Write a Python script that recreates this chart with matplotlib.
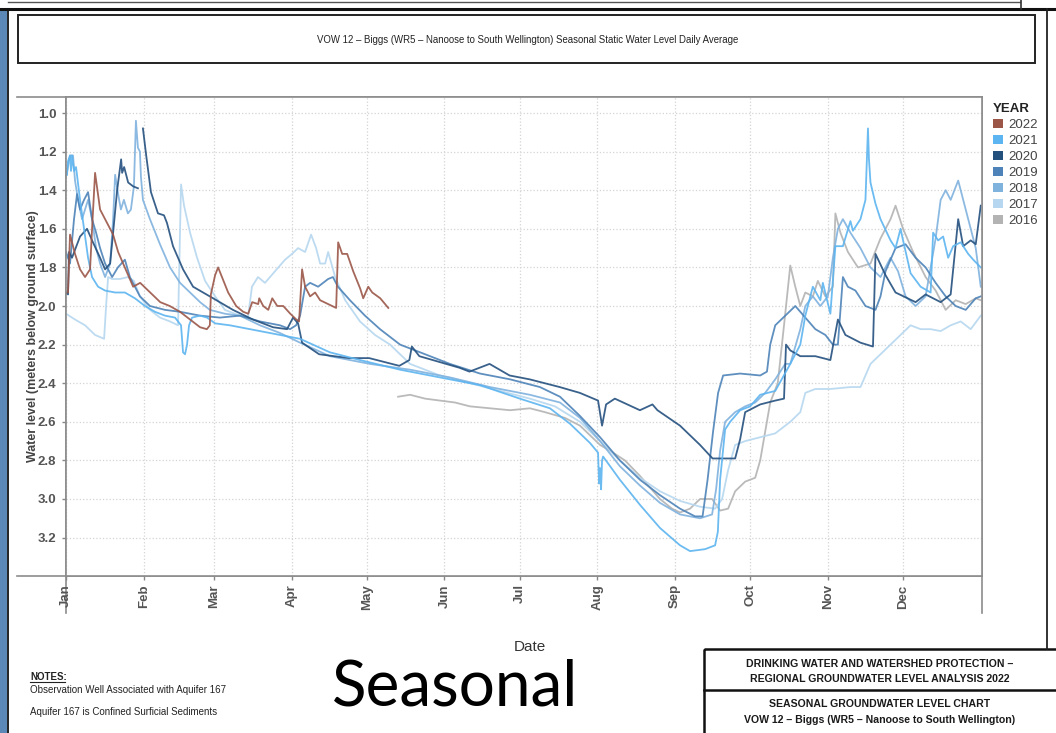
# Seasonal static water level chart - VOW 12 Biggs
import numpy as np
import matplotlib
matplotlib.use("Agg")
import matplotlib.pyplot as plt
from matplotlib.patches import Rectangle, Patch

plt.rcParams['font.family'] = ['Liberation Sans', 'DejaVu Sans']

# ---- data (day of year, water level in m below ground surface) ----
nan = np.nan

y2022 = [(0, 1.93), (0.8, 1.93), (1.6, 1.63), (3.6, 1.73), (5.6, 1.81), (7.6, 1.85), (9.6, 1.81),
         (10.4, 1.60), (11.6, 1.31), (13.6, 1.50), (18.8, 1.63), (20.8, 1.72), (22.8, 1.78),
         (26.8, 1.90), (29.6, 1.88), (33.6, 1.93), (37.6, 1.98), (41.4, 2.00), (45.5, 2.03),
         (49.5, 2.07), (53.5, 2.11), (56.2, 2.12), (57.4, 2.10), (57.8, 1.94), (59.5, 1.84),
         (60.7, 1.80), (64.7, 1.93), (67.9, 2.00), (70.7, 2.03), (72.7, 2.04), (74.3, 1.98),
         (76.7, 1.99), (77.1, 1.96), (78.7, 2.00), (80.7, 2.02), (82.3, 1.96), (84.3, 2.00),
         (86.7, 2.00), (89.5, 2.04), (91.9, 2.07), (93.0, 2.08), (94.2, 1.81), (95.4, 1.90),
         (97.4, 1.95), (99.4, 1.93), (101.4, 1.97), (104.6, 1.99), (107.8, 2.01), (108.6, 1.67),
         (110.2, 1.73), (112.2, 1.73), (114.6, 1.82), (117.4, 1.91), (118.6, 1.96), (120.6, 1.90),
         (122.2, 1.93), (125.4, 1.96), (128.6, 2.01)]

y2021 = [(0.4, 1.32), (0.8, 1.25), (1.6, 1.22), (2.0, 1.30), (2.4, 1.22), (3.2, 1.30), (4.0, 1.28),
         (5.6, 1.45), (7.2, 1.60), (8.8, 1.75), (10.4, 1.85), (12.8, 1.90), (15.6, 1.92),
         (19.6, 1.93), (23.5, 1.93), (27.5, 1.96), (31.5, 2.00), (35.5, 2.03), (39.5, 2.05),
         (43.5, 2.06), (45.9, 2.10), (46.7, 2.24), (47.5, 2.25), (48.3, 2.20), (49.1, 2.10),
         (50.3, 2.06), (53.5, 2.05), (56.3, 2.06), (59.5, 2.09), (65.4, 2.10), (73.4, 2.12),
         (81.4, 2.14), (89.4, 2.16), (93.4, 2.17), (105.3, 2.24), (117.3, 2.28), (133.3, 2.33),
         (149.2, 2.37), (165.2, 2.41), (181.1, 2.48), (193.1, 2.53), (201.1, 2.61), (209.1, 2.71),
         (212.3, 2.76), (212.7, 2.92), (213.1, 2.84), (213.5, 2.95), (213.9, 2.80), (214.3, 2.78),
         (221, 2.90), (229, 3.03), (237, 3.15), (245, 3.24), (249, 3.27), (255, 3.26), (259, 3.24),
         (260.1, 3.17), (261, 2.90), (263, 2.64), (265, 2.60), (269, 2.54), (273, 2.52),
         (277, 2.46), (283, 2.44), (289, 2.30), (293, 2.20), (295, 2.05), (298, 1.90), (301, 1.97),
         (302, 1.88), (305, 2.04), (307, 1.69), (310, 1.69), (313, 1.56), (314, 1.61), (317, 1.55),
         (319, 1.45), (320, 1.08), (320.4, 1.24), (321, 1.36), (323, 1.47), (325, 1.55),
         (329, 1.66), (331, 1.70), (333, 1.60), (334, 1.66), (337, 1.83), (341, 1.90), (345, 1.93),
         (346, 1.62), (348, 1.66), (350, 1.64), (352, 1.75), (354, 1.69), (357, 1.67), (360, 1.73),
         (362, 1.76), (365, 1.80)]

y2020 = [(0, 1.93), (0.8, 1.94), (1.2, 1.72), (2.4, 1.75), (5.6, 1.64), (8.4, 1.60), (10.4, 1.66),
         (13.6, 1.75), (15.6, 1.81), (17.6, 1.78), (18.8, 1.62), (20.4, 1.40), (22, 1.24),
         (22.4, 1.31), (23.2, 1.28), (24.8, 1.36), (26.8, 1.38), (28.7, 1.39), (29.5, nan),
         (30.7, 1.08), (32, 1.22), (33.9, 1.41), (36.7, 1.52), (39.1, 1.53), (40.3, 1.57),
         (42.7, 1.69), (46.7, 1.81), (50.7, 1.90), (54.7, 1.93), (58.7, 1.96), (66.6, 2.02),
         (74.6, 2.07), (82.6, 2.11), (88.2, 2.12), (90.6, 2.06), (92.6, 2.09), (94.2, 2.19),
         (101, 2.25), (113, 2.27), (121, 2.27), (133, 2.31), (137, 2.28), (138, 2.21), (141, 2.26),
         (149, 2.29), (157, 2.32), (161, 2.34), (165, 2.32), (169, 2.30), (177, 2.36), (185, 2.38),
         (197, 2.42), (205, 2.45), (212.3, 2.49), (213.9, 2.62), (215.5, 2.51), (219, 2.48),
         (229, 2.54), (234, 2.51), (236, 2.54), (245, 2.62), (253, 2.72), (258, 2.79), (267, 2.79),
         (269, 2.69), (271, 2.55), (277, 2.51), (283, 2.49), (286.5, 2.48), (287.3, 2.20),
         (289, 2.23), (293, 2.26), (299, 2.26), (305, 2.28), (308, 2.07), (311, 2.15), (317, 2.19),
         (322, 2.21), (323, 1.73), (327, 1.84), (331, 1.93), (339, 1.98), (343, 1.94), (349, 1.98),
         (353, 1.94), (356, 1.55), (358, 1.69), (361, 1.66), (363, 1.68), (365, 1.48)]

y2019 = [(0, 1.72), (1.6, 1.78), (3.2, 1.55), (4.4, 1.42), (5.6, 1.50), (7.2, 1.45), (8.8, 1.41),
         (10.4, 1.55), (12, 1.62), (13.6, 1.70), (15.6, 1.78), (18.4, 1.85), (20.7, 1.80),
         (23.5, 1.76), (25.5, 1.85), (29.5, 1.95), (33.5, 2.00), (39.5, 2.02), (45.5, 2.03),
         (53.5, 2.05), (61.4, 2.06), (69.4, 2.05), (77.4, 2.08), (85.4, 2.10), (89.4, 2.12),
         (91.8, 2.10), (93.4, 2.05), (95.4, 1.90), (97.4, 1.88), (100.6, 1.90), (104.6, 1.86),
         (106.5, 1.85), (108.5, 1.90), (113.3, 1.97), (119.3, 2.05), (125.3, 2.12), (133.3, 2.20),
         (141.3, 2.24), (153.2, 2.30), (165.2, 2.35), (177.2, 2.38), (189.1, 2.42), (197.1, 2.47),
         (205.1, 2.57), (213.1, 2.68), (221, 2.80), (229, 2.90), (237, 2.98), (245, 3.05),
         (251, 3.09), (254, 3.09), (256, 2.90), (258.2, 2.65), (260.2, 2.45), (262.2, 2.36),
         (269, 2.35), (277, 2.36), (279.7, 2.34), (281, 2.20), (283, 2.10), (287, 2.05),
         (291, 2.00), (295, 2.06), (299, 2.12), (303, 2.15), (306, 2.20), (308, 2.20), (310, 1.85),
         (312, 1.90), (315, 1.92), (319, 2.00), (323, 2.02), (325, 1.95), (327, 1.82), (331, 1.70),
         (335, 1.68), (339, 1.75), (343, 1.80), (347, 1.88), (351, 1.95), (355, 2.00), (359, 2.02),
         (363, 1.96), (365, 1.95)]

y2018 = [(0, 1.33), (0.8, 1.28), (1.6, 1.22), (2.8, 1.22), (3.6, 1.35), (4.8, 1.45), (6.4, 1.55),
         (7.6, 1.50), (8.8, 1.45), (10.4, 1.55), (12, 1.70), (13.6, 1.78), (15.6, 1.85),
         (17.6, 1.78), (18.8, 1.55), (19.6, 1.32), (20.8, 1.42), (21.9, 1.50), (23.1, 1.45),
         (24.7, 1.52), (25.9, 1.50), (27.1, 1.38), (27.9, 1.04), (28.7, 1.18), (29.5, 1.20),
         (29.9, 1.33), (30.7, 1.45), (33.5, 1.55), (37.5, 1.68), (41.5, 1.80), (45.5, 1.88),
         (49.5, 1.93), (53.5, 1.98), (57.4, 2.02), (63.4, 2.04), (69.4, 2.05), (77.4, 2.10),
         (85.4, 2.14), (93.4, 2.19), (105.3, 2.26), (121.3, 2.30), (137.3, 2.33), (153.2, 2.37),
         (169.2, 2.42), (185.1, 2.46), (197.1, 2.50), (205.1, 2.58), (213.1, 2.70), (221, 2.83),
         (229, 2.93), (237, 3.02), (245, 3.08), (253, 3.10), (257.8, 3.08), (259.4, 2.95),
         (261, 2.75), (263, 2.60), (267, 2.55), (271, 2.52), (275, 2.50), (279, 2.45), (283, 2.38),
         (287, 2.30), (289, 2.30), (293, 2.12), (295, 2.00), (298, 1.95), (301, 2.00), (304, 1.95),
         (306, 1.75), (308, 1.60), (310, 1.55), (313, 1.62), (317, 1.70), (321, 1.80), (325, 1.85),
         (329, 1.75), (332, 1.82), (335, 1.95), (339, 2.00), (343, 1.95), (347, 1.65), (349, 1.45),
         (351, 1.40), (353, 1.45), (356, 1.35), (359, 1.50), (363, 1.70), (365, 1.90)]

y2017 = [(0, 2.04), (3.6, 2.07), (7.6, 2.10), (11.6, 2.15), (15.2, 2.17), (16, 2.00), (16.8, 1.85),
         (18.4, 1.86), (21.5, 1.86), (24.7, 1.85), (27.1, 1.87), (29.5, 1.95), (33.5, 2.02),
         (37.5, 2.06), (41.5, 2.08), (44.7, 2.10), (45.9, 1.37), (47.1, 1.48), (49.5, 1.62),
         (52.3, 1.75), (55.5, 1.87), (59.5, 1.95), (63.4, 2.02), (69.4, 2.05), (72.6, 2.06),
         (74.2, 1.90), (76.6, 1.85), (79.4, 1.88), (83.4, 1.82), (87.4, 1.76), (90.2, 1.73),
         (92.6, 1.70), (95.4, 1.72), (97.8, 1.63), (99.8, 1.70), (101.4, 1.78), (103.4, 1.78),
         (104.6, 1.72), (107.4, 1.85), (111.4, 1.97), (117.3, 2.08), (123.3, 2.15), (129.3, 2.20),
         (137.3, 2.30), (149.2, 2.36), (161.2, 2.40), (173.2, 2.44), (185.1, 2.48), (195.1, 2.52),
         (205.1, 2.60), (213.1, 2.70), (221, 2.80), (229, 2.89), (237, 2.96), (245, 3.01),
         (253, 3.04), (259, 3.05), (261.8, 3.00), (264.2, 2.85), (267, 2.72), (271, 2.70),
         (277, 2.68), (283, 2.66), (289, 2.60), (293, 2.55), (295, 2.45), (299, 2.43), (305, 2.43),
         (313, 2.42), (317, 2.42), (321, 2.30), (325, 2.25), (329, 2.20), (333, 2.15), (337, 2.10),
         (341, 2.12), (345, 2.12), (349, 2.13), (353, 2.10), (357, 2.08), (361, 2.12), (365, 2.05)]

y2016 = [(132.5, 2.47), (137.3, 2.46), (143.3, 2.48), (149.2, 2.49), (155.2, 2.50), (161.2, 2.52),
         (169.2, 2.53), (177.2, 2.54), (185.1, 2.53), (191.1, 2.55), (199.1, 2.58), (205.1, 2.62),
         (209.1, 2.67), (213.1, 2.72), (217.1, 2.75), (223, 2.80), (229, 2.88), (237, 3.00),
         (241.8, 3.05), (245, 3.07), (249, 3.05), (253, 3.00), (257.8, 3.00), (261, 3.06),
         (264.2, 3.05), (267, 2.96), (271, 2.91), (275, 2.89), (277, 2.80), (279, 2.65), (281, 2.50),
         (284, 2.40), (286.5, 2.10), (289, 1.79), (291, 1.90), (293, 2.00), (295, 1.93), (298, 1.95),
         (300, 1.87), (303, 1.95), (306, 1.90), (307, 1.52), (309, 1.62), (312, 1.72), (316, 1.80),
         (321, 1.78), (325, 1.65), (329, 1.55), (331, 1.48), (334, 1.60), (338, 1.72), (343, 1.85),
         (347, 1.92), (351, 2.02), (355, 1.97), (359, 1.99), (363, 1.96), (365, 1.97)]

years = ['2022', '2021', '2020', '2019', '2018', '2017', '2016']
series = {'2022': y2022, '2021': y2021, '2020': y2020, '2019': y2019,
          '2018': y2018, '2017': y2017, '2016': y2016}
colors = {'2022': '#9b5648', '2021': '#5cb4f0', '2020': '#24507e', '2019': '#4d83b8',
          '2018': '#80b2de', '2017': '#b6d7ef', '2016': '#b3b3b3'}

month_starts = [0, 31, 59, 90, 120, 151, 181, 212, 243, 273, 304, 334]
month_labels = ['Jan', 'Feb', 'Mar', 'Apr', 'May', 'Jun', 'Jul', 'Aug', 'Sep', 'Oct', 'Nov', 'Dec']
level_ticks = [1.0, 1.2, 1.4, 1.6, 1.8, 2.0, 2.2, 2.4, 2.6, 2.8, 3.0, 3.2]

W, H = 1056, 733
fig = plt.figure(figsize=(W / 100, H / 100), dpi=100)
fig.patch.set_facecolor('white')

# page overlay in pixel units
page = fig.add_axes([0, 0, 1, 1], zorder=0)
page.set_xlim(0, W)
page.set_ylim(H, 0)
page.axis('off')

# document frame bits
page.add_patch(Rectangle((0, 10), 7, H - 10, color='#5b88b6', lw=0))
page.plot([7.5, 7.5], [10, H], color='#111', lw=1.3)
page.plot([0, W], [9, 9], color='#111', lw=2.2)
page.plot([8, 1020], [1.5, 1.5], color='#555', lw=1.0)
page.plot([1021, 1021], [0, 9], color='#333', lw=1.2)
page.plot([1047, 1047], [9, 649], color='#222', lw=1.3)

# title box
page.add_patch(Rectangle((18, 15), 1017, 48, fill=False, ec='#222', lw=1.4))
page.text(528, 40, 'VOW 12 – Biggs (WR5 – Nanoose to South Wellington) Seasonal Static Water Level Daily Average',
          ha='center', va='center', fontsize=6.9, color='#222')

# extended panel lines
frame_c = '#8c8c8c'
page.plot([17, 982], [97, 97], color=frame_c, lw=1.2)
page.plot([17, 982], [576, 576], color=frame_c, lw=1.2)
page.plot([66, 66], [97, 613], color=frame_c, lw=1.2)
page.plot([982, 982], [97, 613], color=frame_c, lw=1.2)

# notes
page.text(30, 677, 'NOTES:', fontsize=7, fontweight='bold', color='#222', va='center')
page.plot([30, 65], [682, 682], color='#222', lw=0.8)
page.text(30, 690, 'Observation Well Associated with Aquifer 167', fontsize=7, color='#222', va='center')
page.text(30, 712, 'Aquifer 167 is Confined Surficial Sediments', fontsize=7, color='#222', va='center')

page.text(455, 688, 'Seasonal', fontsize=46, family='Lato', color='black', ha='center', va='center')

# title block
page.add_patch(Rectangle((704, 649), 360, 100, fill=False, ec='#111', lw=1.8))
page.plot([704, W], [690, 690], color='#111', lw=1.8)
tb = dict(ha='center', va='center', fontsize=7.6, fontweight='bold', color='#1a1a1a')
page.text(880, 664, 'DRINKING WATER AND WATERSHED PROTECTION –', **tb)
page.text(880, 679, 'REGIONAL GROUNDWATER LEVEL ANALYSIS 2022', **tb)
page.text(880, 704, 'SEASONAL GROUNDWATER LEVEL CHART', **tb)
page.text(880, 720, 'VOW 12 – Biggs (WR5 – Nanoose to South Wellington)', **tb)

page.text(530, 647, 'Date', fontsize=11, color='#333', ha='center', va='center')
page.text(33, 336, 'Water level (meters below ground surface)', fontsize=9, fontweight='bold',
          color='#444', rotation=90, ha='center', va='center')

# ---- chart ----
ax = fig.add_axes([66 / W, 1 - 576 / H, (982 - 66) / W, (576 - 97) / H], zorder=1)
for yr in reversed(years):
    d = np.array(series[yr], dtype=float)
    ax.plot(d[:, 0], d[:, 1], color=colors[yr], lw=1.3, alpha=0.9, solid_joinstyle='round')

ax.set_xlim(0, 365.5)
ax.set_ylim(3.399, 0.917)
ax.set_xticks(month_starts)
ax.set_xticklabels(month_labels, rotation=90, fontsize=9.5, fontweight='bold', color='#555')
ax.set_yticks(level_ticks)
ax.set_yticklabels([f'{v:.1f}' for v in level_ticks], fontsize=9.5, fontweight='bold', color='#555')
ax.tick_params(axis='y', length=3, width=1, color='#888', pad=4)
ax.tick_params(axis='x', length=3, width=1, color='#888', pad=3)
ax.grid(True, color='#d4d4d4', linestyle=':', lw=0.9)
for s in ax.spines.values():
    s.set_color(frame_c)
    s.set_linewidth(1.2)

handles = [Patch(facecolor=colors[y], edgecolor='none', label=y) for y in years]
leg = fig.legend(handles=handles, title='YEAR', loc='upper left',
                 bbox_to_anchor=(984 / W, 1 - 94 / H), frameon=False, fontsize=9.5,
                 handlelength=0.75, handleheight=0.75, handletextpad=0.4, labelspacing=0.27,
                 borderpad=0.2, alignment='left')
leg.get_title().set_fontweight('bold')
leg.get_title().set_fontsize(9.5)
leg.get_title().set_color('#222')
for t in leg.get_texts():
    t.set_color('#444')

fig.savefig('out.png', dpi=100)
